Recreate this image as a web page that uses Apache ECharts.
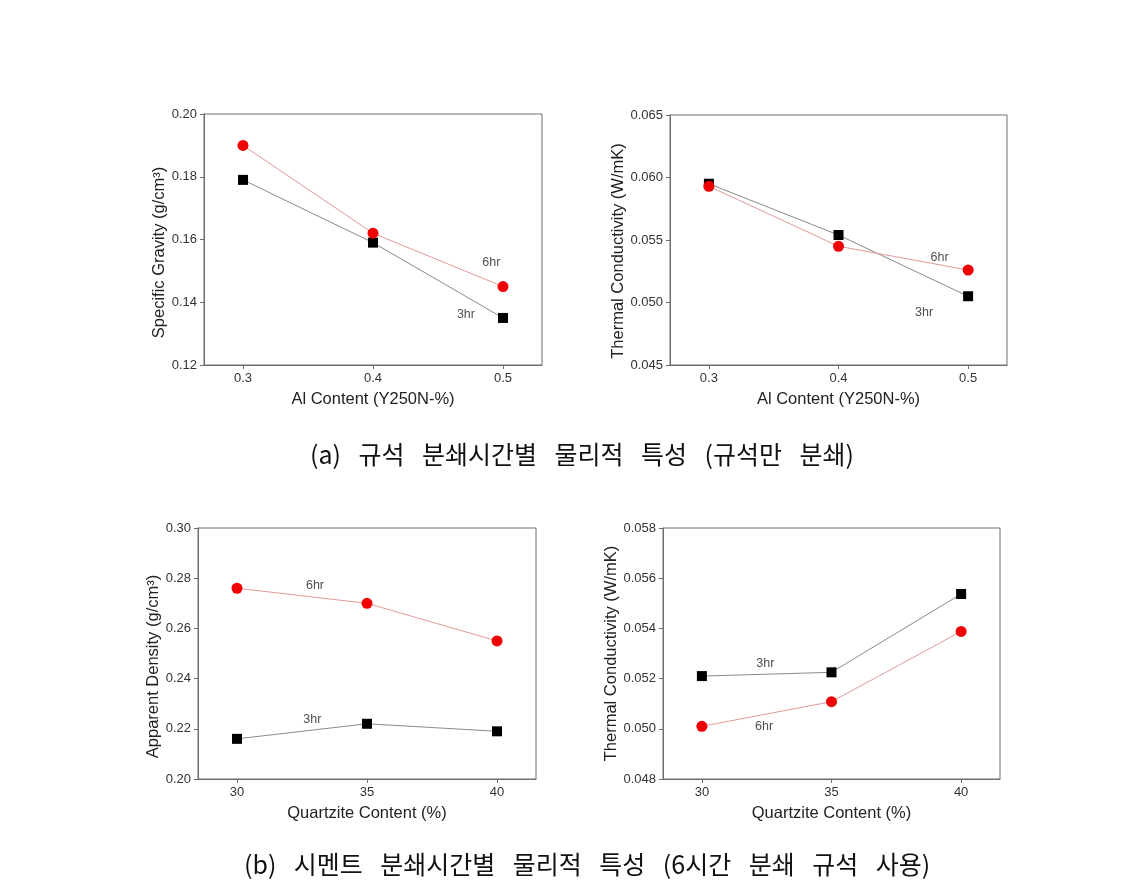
<!DOCTYPE html>
<html><head><meta charset="utf-8">
<script src="https://cdn.jsdelivr.net/npm/echarts@6/dist/echarts.min.js"></script>
<style>html,body{margin:0;padding:0;background:#fff}#c{width:1145px;height:893px}</style>
</head><body><div id="c"></div>
<script>
// Chart (a-1): Specific gravity vs Al content
const alContent = [0.3, 0.4, 0.5];
const sg3hr = [0.179, 0.159, 0.135];
const sg6hr = [0.190, 0.162, 0.145];
// Chart (a-2): Thermal conductivity vs Al content
const tcA3hr = [0.0595, 0.0554, 0.0505];
const tcA6hr = [0.0593, 0.0545, 0.0526];
// Chart (b-1): Apparent density vs quartzite content
const quartz = [30, 35, 40];
const ad3hr = [0.216, 0.222, 0.219];
const ad6hr = [0.276, 0.270, 0.255];
// Chart (b-2): Thermal conductivity vs quartzite content
const tcB3hr = [0.0521, 0.05225, 0.05537];
const tcB6hr = [0.0501, 0.05108, 0.05388];

// tick labels
const xTicksA = [0.3, 0.4, 0.5];
const yTicksSG = [0.12, 0.14, 0.16, 0.18, 0.20];
const yTicksTCA = [0.045, 0.050, 0.055, 0.060, 0.065];
const xTicksB = [30, 35, 40];
const yTicksAD = [0.20, 0.22, 0.24, 0.26, 0.28, 0.30];
const yTicksTCB = [0.048, 0.050, 0.052, 0.054, 0.056, 0.058];

// annotation positions (data coords) and texts
const notes1 = [[0.491, 0.1526, '6hr'], [0.4715, 0.1362, '3hr']];
const notes2 = [[0.478, 0.0536, '6hr'], [0.466, 0.0492, '3hr']];
const notes3 = [[33.0, 0.2770, '6hr'], [32.9, 0.2236, '3hr']];
const notes4 = [[32.45, 0.0526, '3hr'], [32.4, 0.0501, '6hr']];

const SP = '\u2002\u2009';
const captionA = ['(a)', '규석', '분쇄시간별', '물리적', '특성', '(규석만', '분쇄)'].join(SP);
const captionB = ['(b)', '시멘트', '분쇄시간별', '물리적', '특성', '(6시간', '분쇄', '규석', '사용)'].join(SP);

const FONT = '"Liberation Sans", Arial, sans-serif';
const grids = [
  {left: 204, top: 114, width: 338, height: 251},
  {left: 670, top: 115, width: 337, height: 250},
  {left: 198, top: 528, width: 338, height: 251},
  {left: 663, top: 528, width: 337, height: 251}
];
const xs = [
  {min: 0.27, max: 0.53, ticks: xTicksA, name: 'Al Content (Y250N-%)', fmt: v => v.toFixed(1)},
  {min: 0.27, max: 0.53, ticks: xTicksA, name: 'Al Content (Y250N-%)', fmt: v => v.toFixed(1)},
  {min: 28.5, max: 41.5, ticks: xTicksB, name: 'Quartzite Content (%)', fmt: v => String(v)},
  {min: 28.5, max: 41.5, ticks: xTicksB, name: 'Quartzite Content (%)', fmt: v => String(v)}
];
const ys = [
  {min: 0.12, max: 0.20, ticks: yTicksSG, name: 'Specific Gravity (g/cm³)', fmt: v => v.toFixed(2), gap: 35, shift: 26},
  {min: 0.045, max: 0.065, ticks: yTicksTCA, name: 'Thermal Conductivity (W/mK)', fmt: v => v.toFixed(3), gap: 40, shift: 22},
  {min: 0.20, max: 0.30, ticks: yTicksAD, name: 'Apparent Density (g/cm³)', fmt: v => v.toFixed(2), gap: 36, shift: 26},
  {min: 0.048, max: 0.058, ticks: yTicksTCB, name: 'Thermal Conductivity (W/mK)', fmt: v => v.toFixed(3), gap: 42, shift: 0}
];
const xData = [alContent, alContent, quartz, quartz];
const s3 = [sg3hr, tcA3hr, ad3hr, tcB3hr];
const s6 = [sg6hr, tcA6hr, ad6hr, tcB6hr];
const notes = [notes1, notes2, notes3, notes4];

const option = {
  backgroundColor: '#fff',
  animation: false,
  grid: grids.map(g => Object.assign({show: true, borderColor: '#6e6e6e', borderWidth: 1, backgroundColor: 'transparent'}, g)),
  xAxis: xs.map((a, i) => ({
    type: 'value', gridIndex: i, min: a.min, max: a.max,
    name: a.name, nameLocation: 'middle', nameGap: 26,
    nameTextStyle: {fontFamily: FONT, fontSize: 16.5, color: '#222'},
    axisLine: {lineStyle: {color: '#6e6e6e'}},
    axisTick: {customValues: a.ticks, length: 4, lineStyle: {color: '#6e6e6e'}},
    axisLabel: {customValues: a.ticks, formatter: a.fmt, fontFamily: FONT, fontSize: 13, color: '#333', margin: 7},
    splitLine: {show: false}
  })),
  yAxis: ys.map((a, i) => ({
    type: 'value', gridIndex: i, min: a.min, max: a.max,
    name: a.name, nameLocation: 'middle', nameGap: a.gap, nameRotate: 90,
    nameTextStyle: {fontFamily: FONT, fontSize: 16.5, color: '#222', padding: [0, a.shift, 0, 0]},
    axisLine: {show: true, lineStyle: {color: '#6e6e6e'}},
    axisTick: {show: true, customValues: a.ticks, length: 4, lineStyle: {color: '#6e6e6e'}},
    axisLabel: {customValues: a.ticks, formatter: a.fmt, fontFamily: FONT, fontSize: 13, color: '#333', margin: 7},
    splitLine: {show: false}
  })),
  series: [],
  graphic: [
    {type: 'text', left: 310, top: 442, style: {text: captionA, font: '25px "Noto Sans CJK KR"', fill: '#111'}},
    {type: 'text', left: 244, top: 852, style: {text: captionB, font: '25px "Noto Sans CJK KR"', fill: '#111'}}
  ]
};
for (let i = 0; i < 4; i++) {
  option.series.push({
    type: 'line', xAxisIndex: i, yAxisIndex: i,
    data: xData[i].map((x, k) => [x, s3[i][k]]),
    symbol: 'rect', symbolSize: 10, itemStyle: {color: '#000'},
    lineStyle: {color: '#8a8a8a', width: 1}, z: 3
  });
  option.series.push({
    type: 'line', xAxisIndex: i, yAxisIndex: i,
    data: xData[i].map((x, k) => [x, s6[i][k]]),
    symbol: 'circle', symbolSize: 11, itemStyle: {color: '#f00000'},
    lineStyle: {color: '#e09a9a', width: 1}, z: 4
  });
  option.series.push({
    type: 'scatter', xAxisIndex: i, yAxisIndex: i,
    data: notes[i].map(n => ({value: [n[0], n[1]], name: n[2]})),
    symbolSize: 0, silent: true,
    label: {show: true, position: 'inside', formatter: p => p.name, fontFamily: FONT, fontSize: 12.5, color: '#222'}
  });
}
echarts.init(document.getElementById('c')).setOption(option);
</script></body></html>
